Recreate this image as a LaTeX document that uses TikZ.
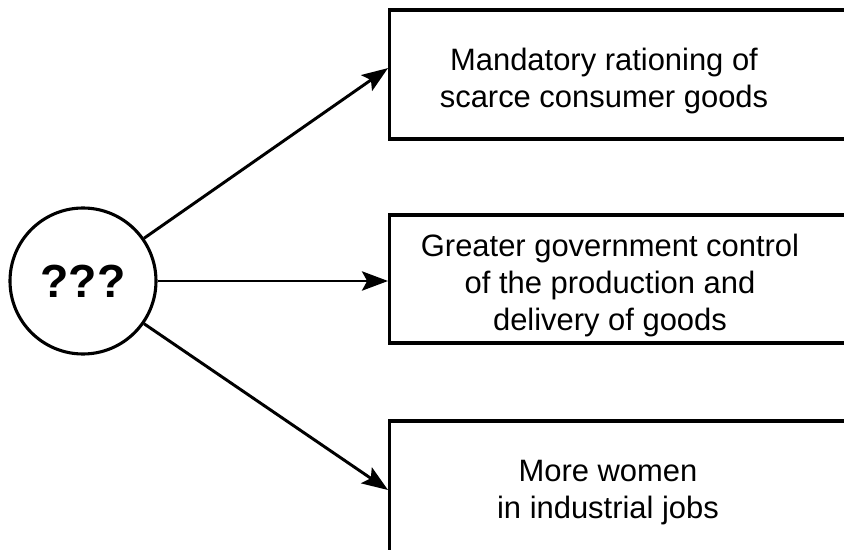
\documentclass[tikz,border=0pt]{standalone}
\usepackage{fontspec}
\setmainfont{Liberation Sans}
\usetikzlibrary{arrows.meta}

\begin{document}
\begin{tikzpicture}[
  hub/.style={circle, draw, line width=2.2pt, minimum size=3.65cm, inner sep=0pt, font=\fontsize{33}{36}\selectfont\bfseries},
  outbox/.style={rectangle, draw, line width=2.3pt, minimum width=12.8cm, anchor=west},
  outtext/.style={align=center, font=\fontsize{22}{26.3}\selectfont},
  arrow/.style={-{Stealth[length=6.5mm, width=4.8mm, inset=1.3mm]}, line width=2.1pt}
]
  \clip (0,0) rectangle (21.1,-13.75);

  \node[hub] (cause) at (2.075,-7.025) {???};

  % effect boxes (right side runs off the page)
  \node[outbox, minimum height=3.225cm] (rationbox) at (9.7,-1.8625) {};
  \node[outbox, minimum height=3.2cm] (controlbox) at (9.7,-6.975) {};
  \node[outbox, minimum height=3.45cm] (womenbox) at (9.7,-12.25) {};

  \node[outtext] (ration) at (15.1,-2.03) {Mandatory rationing of\\scarce consumer goods};
  \node[outtext] (control) at (15.25,-7.14) {Greater government control\\of the production and\\delivery of goods};
  \node[outtext] (women) at (15.2,-12.32) {More women\\in industrial jobs};

  \draw[arrow] (cause.35) -- ([yshift=0.16cm]rationbox.west);
  \draw[arrow] (cause.east) -- (cause.east -| controlbox.west);
  \draw[arrow] (cause.-35) -- (womenbox.west);
\end{tikzpicture}
\end{document}
